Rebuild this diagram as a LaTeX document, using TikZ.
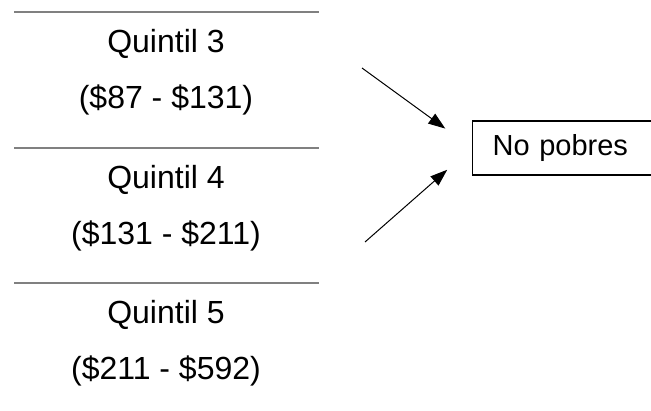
\documentclass[tikz,border=0pt]{standalone}
\usepackage{fontspec}
\setmainfont{Liberation Sans}
\usetikzlibrary{positioning,arrows.meta}

\begin{document}
\begin{tikzpicture}[x=1pt,y=-1pt,>={Triangle[length=17pt,width=12pt]},
  lbl/.style={font=\fontsize{32}{38}\selectfont},
  boxlbl/.style={font=\fontsize{29}{34}\selectfont}]
  \useasboundingbox (0,0) rectangle (651,411);
  \foreach \i/\y/\r in {3/12/{(\$87 - \$131)},4/148/{(\$131 - \$211)},5/283/{(\$211 - \$592)}} {
    \draw[gray,line width=2pt] (14,\y) -- (319,\y);
    \node[lbl] (q\i) at (166,\y+32) {Quintil \i};
    \node[lbl] (r\i) at (166,\y+88) {\r};
  }
  \node[boxlbl,draw,line width=1.2pt,anchor=west,minimum height=54pt,text width=139pt,inner xsep=20pt] (np) at (472,148) {No pobres};
  \coordinate (a3) at (362,68);
  \coordinate (a4) at (365,242);
  \draw[->,line width=1pt,shorten >=33pt] (a3) -- (np.west);
  \draw[->,line width=1pt,shorten >=33pt] (a4) -- (np.west);
\end{tikzpicture}
\end{document}
